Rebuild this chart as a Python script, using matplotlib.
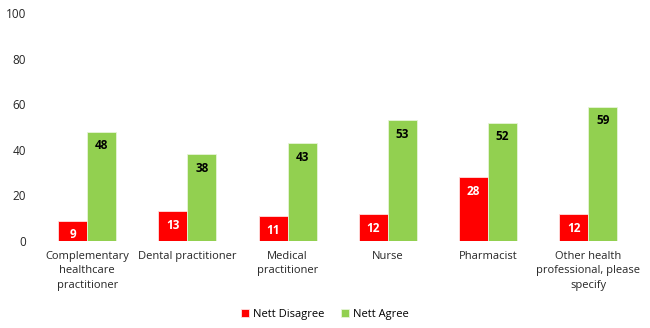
import matplotlib.pyplot as plt
import numpy as np

# chart data
categories = ['Complementary\nhealthcare\npractitioner', 'Dental practitioner',
              'Medical\npractitioner', 'Nurse', 'Pharmacist',
              'Other health\nprofessional, please\nspecify']
nett_disagree = [9, 13, 11, 12, 28, 12]
nett_agree = [48, 38, 43, 53, 52, 59]

plt.rcParams['font.family'] = ['Open Sans', 'DejaVu Sans']

fig = plt.figure(figsize=(6.5, 3.28), dpi=100)
ax = fig.add_axes([0.057, 0.265, 0.925, 0.695])

x = np.arange(len(categories))
w = 0.29
red_bars = ax.bar(x - w / 2, nett_disagree, w, color='#FF0000', edgecolor='#FFE0E0',
                  linewidth=0.6, label='Nett Disagree')
green_bars = ax.bar(x + w / 2, nett_agree, w, color='#92D050', edgecolor='#E6F5D8',
                    linewidth=0.6, label='Nett Agree')

ax.bar_label(red_bars, padding=-15, color='white', fontsize=8.5, fontweight='bold')
ax.bar_label(green_bars, padding=-15, color='black', fontsize=8.5, fontweight='bold')

ax.set_xlim(-0.5, len(categories) - 0.5)
ax.set_ylim(0, 100)
ax.set_yticks(range(0, 101, 20))
ax.set_xticks(x)
ax.set_xticklabels(categories, fontsize=8, linespacing=1.45)
ax.tick_params(axis='y', length=0, labelsize=8.5, colors='#262626', pad=8)
ax.tick_params(axis='x', length=0, colors='#262626', pad=7)
for s in ax.spines.values():
    s.set_visible(False)

fig.legend(handles=[red_bars, green_bars], loc='lower center', ncol=2,
           bbox_to_anchor=(0.5, -0.005), frameon=False, fontsize=8,
           handlelength=0.7, handleheight=0.7, columnspacing=1.5, handletextpad=0.4)

fig.savefig('out.png', dpi=100)
